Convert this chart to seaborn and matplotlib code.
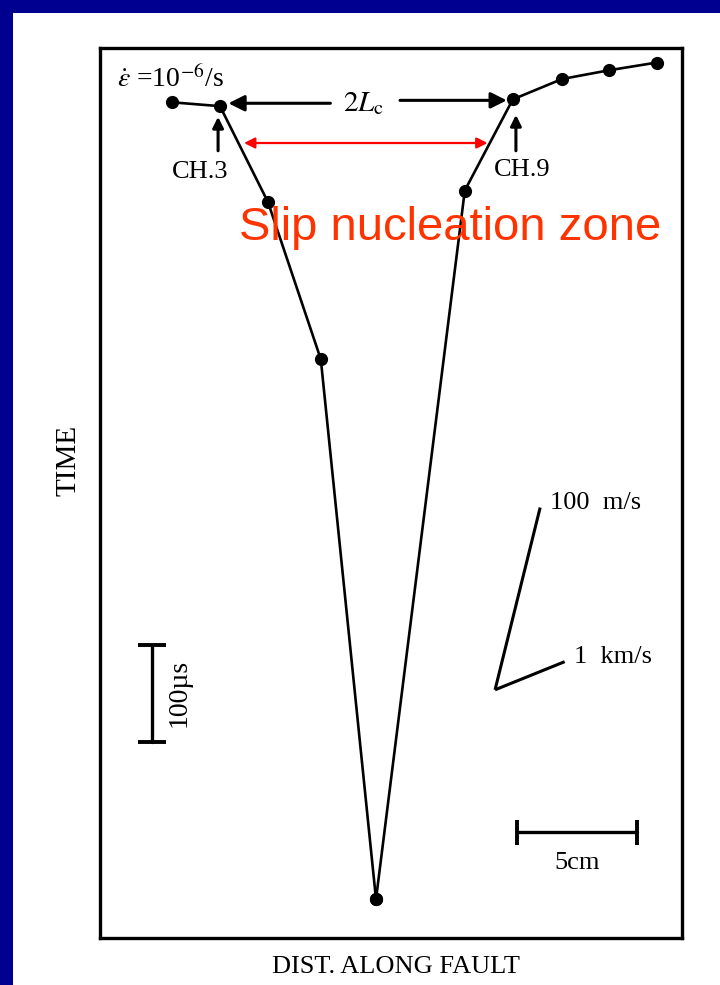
import numpy as np
import pandas as pd
import matplotlib.pyplot as plt
import seaborn as sns
from matplotlib.patches import Rectangle

# slip onset along the fault: distance (cm) vs time (microseconds)
left_dist = [3.0, 5.0, 7.0, 9.2, 11.5]
left_time = [862, 858, 759, 597, 40]
right_dist = [11.5, 15.2, 17.2, 19.25, 21.2, 23.2]
right_time = [40, 771, 865, 886, 895, 903]

# velocity guides: label, speed (cm/us), length in time (us)
vel_labels = ['100  m/s', '1  km/s']
vel_speed = [0.01, 0.1]
vel_dt = [188, 29]
vel_origin = (16.46, 256)

df = pd.DataFrame({
    'dist': left_dist + right_dist,
    'time': left_time + right_time,
    'branch': ['left'] * len(left_dist) + ['right'] * len(right_dist),
})

sns.set_style('white')
plt.rcParams['font.family'] = ['Liberation Serif', 'DejaVu Serif']
plt.rcParams['mathtext.fontset'] = 'stix'
plt.rcParams['text.color'] = 'black'

W, H = 720, 985
fig = plt.figure(figsize=(W / 100, H / 100), dpi=100, facecolor='#000090')
fig.patches.append(Rectangle((13 / W, 0), 1, 1 - 13 / H, transform=fig.transFigure,
                             facecolor='white', edgecolor='none', zorder=-10))

ax = fig.add_axes([100 / W, 47 / H, 582 / W, 890 / H])
ax.patch.set_alpha(0)
sns.lineplot(data=df, x='dist', y='time', units='branch', estimator=None, sort=False,
             color='k', linewidth=1.9, marker='o', markersize=9.5, markeredgewidth=0, ax=ax)
ax.set_xlim(0, 24.25)
ax.set_ylim(0, 918)
ax.set_xticks([])
ax.set_yticks([])
ax.set_xlabel('')
ax.set_ylabel('')
for s in ax.spines.values():
    s.set_linewidth(2.4)
    s.set_color('k')

# strain rate
ax.text(0.7, 886, r'$\dot{\varepsilon}$ =10$^{-6}$/s', fontsize=20, va='center', ha='left')

# 2Lc arrows
ax.text(11.0, 861, r'$2L_{\rm c}$', fontsize=21, va='center', ha='center')
blk = dict(arrowstyle='-|>', color='k', lw=2.2, mutation_scale=24, shrinkA=0, shrinkB=0)
ax.annotate('', xy=(5.35, 861), xytext=(9.6, 861), arrowprops=blk)
ax.annotate('', xy=(16.95, 864), xytext=(12.5, 864), arrowprops=blk)

# channel markers
up = dict(arrowstyle='-|>', color='k', lw=2.2, mutation_scale=16, shrinkA=0, shrinkB=0)
ax.annotate('', xy=(4.92, 847), xytext=(4.92, 812), arrowprops=up)
ax.annotate('', xy=(17.33, 849), xytext=(17.33, 812), arrowprops=up)
ax.text(4.17, 790, 'CH.3', fontsize=19, ha='center', va='center')
ax.text(17.6, 792, 'CH.9', fontsize=19, ha='center', va='center')

# nucleation zone
red = dict(arrowstyle='<|-|>', color='#ff0000', lw=1.6, mutation_scale=16, shrinkA=0, shrinkB=0)
ax.annotate('', xy=(6.0, 820), xytext=(16.15, 820), arrowprops=red)
ax.text(14.58, 732, 'Slip nucleation zone', color='#ff3300', fontsize=34,
        family=['Liberation Sans', 'DejaVu Sans'], ha='center', va='center')

# velocity guides
x0, t0 = vel_origin
for lab, v, dt in zip(vel_labels, vel_speed, vel_dt):
    ax.plot([x0, x0 + v * dt], [t0, t0 + dt], color='k', lw=2.2, solid_capstyle='butt')
    ax.text(x0 + v * dt + 0.4, t0 + dt + 5, lab, fontsize=19, ha='left', va='center')

# scale bars
ax.plot([17.38, 22.38], [109, 109], color='k', lw=2.4, marker='|', markersize=18, markeredgewidth=2.8)
ax.text(19.88, 77, '5cm', fontsize=19, ha='center', va='center')
ax.plot([2.17, 2.17], [202, 302], color='k', lw=2.4, marker='_', markersize=20, markeredgewidth=2.8)
ax.text(3.3, 253, '100µs', fontsize=20, ha='center', va='center', rotation=90)

fig.text(68 / W, 1 - 460 / H, 'TIME', fontsize=21, rotation=90, ha='center', va='center')
fig.text(396 / W, 1 - 967 / H, 'DIST. ALONG FAULT', fontsize=19, ha='center', va='center')

fig.savefig('out.png', dpi=100, facecolor=fig.get_facecolor())
